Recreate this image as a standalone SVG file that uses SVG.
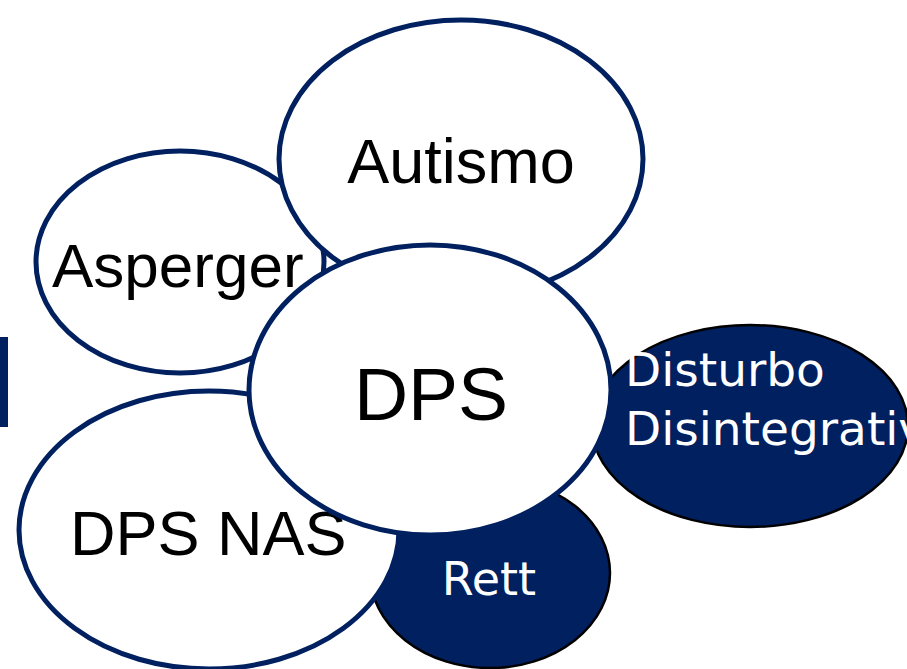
<svg xmlns="http://www.w3.org/2000/svg" width="907" height="669" viewBox="0 0 907 669">
<style>
.w{fill:#ffffff;stroke:#002060;stroke-width:5}
.d{fill:#002060;stroke:#000000;stroke-width:2.5}
.tb{font-family:"Liberation Sans",Arial,sans-serif;fill:#000000}
.tw{font-family:"DejaVu Sans",Verdana,sans-serif;fill:#ffffff}
</style>
<rect x="0" y="337" width="8" height="90" fill="#002060"/>
<g id="asperger"><ellipse class="w" cx="180" cy="262" rx="144" ry="111"/><text class="tb" x="52" y="287" font-size="62">Asperger</text></g>
<g id="autismo"><ellipse class="w" cx="461" cy="159" rx="182" ry="139"/><text class="tb" x="461" y="183" font-size="63" text-anchor="middle">Autismo</text></g>
<g id="disturbo"><ellipse class="d" cx="750" cy="426" rx="158" ry="101"/><text class="tw" x="625" y="386" font-size="47">Disturbo</text><text class="tw" x="625" y="445" font-size="47">Disintegrativo</text></g>
<g id="rett"><ellipse class="d" cx="490" cy="573" rx="120" ry="95"/><text class="tw" x="489" y="595" font-size="46" text-anchor="middle">Rett</text></g>
<g id="dpsnas"><ellipse class="w" cx="209" cy="530" rx="190" ry="139"/><text class="tb" x="70" y="555" font-size="63">DPS NAS</text></g>
<g id="dps"><ellipse class="w" cx="430" cy="390" rx="181" ry="145"/><text class="tb" x="431" y="420" font-size="75" text-anchor="middle">DPS</text></g>
<g id="connectors"></g>
</svg>
